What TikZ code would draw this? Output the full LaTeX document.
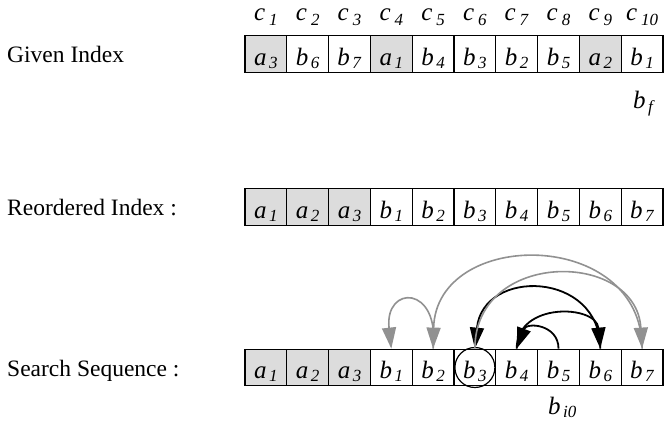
\documentclass[tikz,border=0pt]{standalone}
\usepackage{fontspec}
\setmainfont{Liberation Serif}
\usetikzlibrary{arrows.meta}
\definecolor{cellgray}{RGB}{220,220,220}
\definecolor{arcgray}{RGB}{145,145,145}
\newcommand\vv[4][2.5pt]{\textit{#3}\kern#1\raisebox{-#2}{\fontsize{17}{17}\selectfont\textit{#4}}}
\tikzset{
  cellbase/.style={draw, line width=1.3pt, minimum width=41.8pt, minimum height=36.5pt,
    inner sep=0pt, text height=22pt, text depth=0pt, font=\fontsize{25}{25}\selectfont},
  cella/.style={cellbase, fill=cellgray},
  cellb/.style={cellbase, fill=white},
  rowlabel/.style={anchor=base west, inner sep=0pt, font=\fontsize{23.5}{24}\selectfont},
  toplabel/.style={anchor=base, inner sep=0pt, font=\fontsize{25}{25}\selectfont},
  sidelabel/.style={anchor=base west, inner sep=0pt, font=\fontsize{25}{25}\selectfont},
  blackarc/.style={line width=1.8pt, -{Triangle[length=21pt,width=14pt]}},
  grayarc/.style={arcgray, line width=1.6pt, -{Triangle[length=21pt,width=14pt]}},
  ring/.style={draw, circle, line width=1.2pt, minimum size=40pt, inner sep=0pt}
}
\begin{document}
\begin{tikzpicture}[x=1pt, y=-1pt]
\useasboundingbox (0,0) rectangle (664,426);
% row labels
\node[rowlabel] (lgiven) at (7,62.7) {Given Index};
\node[rowlabel] (lreord) at (7,215.5) {Reordered Index :};
\node[rowlabel] (lsearch) at (7,376) {Search Sequence :};
% given index
\foreach \L/\S [count=\i] in {a/3,b/6,b/7,a/1,b/4,b/3,b/2,b/5,a/2,b/1}{
  \node[cell\L] (g\i) at ({245+41.8*(\i-0.5)},54) {\vv{3pt}{\L}{\S}};
  \node[toplabel] (c\i) at ({245+41.8*(\i-0.5)},20) {\vv[4pt]{5pt}{c}{\i}};
}
% reordered index
\foreach \L/\S [count=\i] in {a/1,a/2,a/3,b/1,b/2,b/3,b/4,b/5,b/6,b/7}{
  \node[cell\L] (r\i) at ({245+41.8*(\i-0.5)},207) {\vv{3pt}{\L}{\S}};
}
% search sequence
\foreach \L/\S [count=\i] in {a/1,a/2,a/3,b/1,b/2,b/3,b/4,b/5,b/6,b/7}{
  \node[cell\L] (s\i) at ({245+41.8*(\i-0.5)},367.5) {\vv{3pt}{\L}{\S}};
}
\node[sidelabel] (bf) at (633,108) {\vv{4pt}{b}{f}};
\node[sidelabel] (bi0) at (548,414) {\vv{3pt}{b}{i0}};
\node[ring] (target) at (s6.center) {};
% arcs
\draw[blackarc] (s8.north) .. controls +(0,-24) and +(10,-27) .. (s7.north);
\draw[blackarc] (s7.north) .. controls +(0,-47) and +(-4,-44) .. (s9.north);
\draw[blackarc] (s9.north) .. controls +(0,-78) and +(8,-81) .. (s6.north);
\draw[grayarc] (s6.north) .. controls +(0,-99) and +(-6,-99) .. (s10.north);
\draw[grayarc] (s10.north) .. controls +(0,-121) and +(3,-121) .. (s5.north);
\draw[grayarc] (s5.north) .. controls +(7,-64) and +(-7,-64) .. (s4.north);
\end{tikzpicture}
\end{document}
